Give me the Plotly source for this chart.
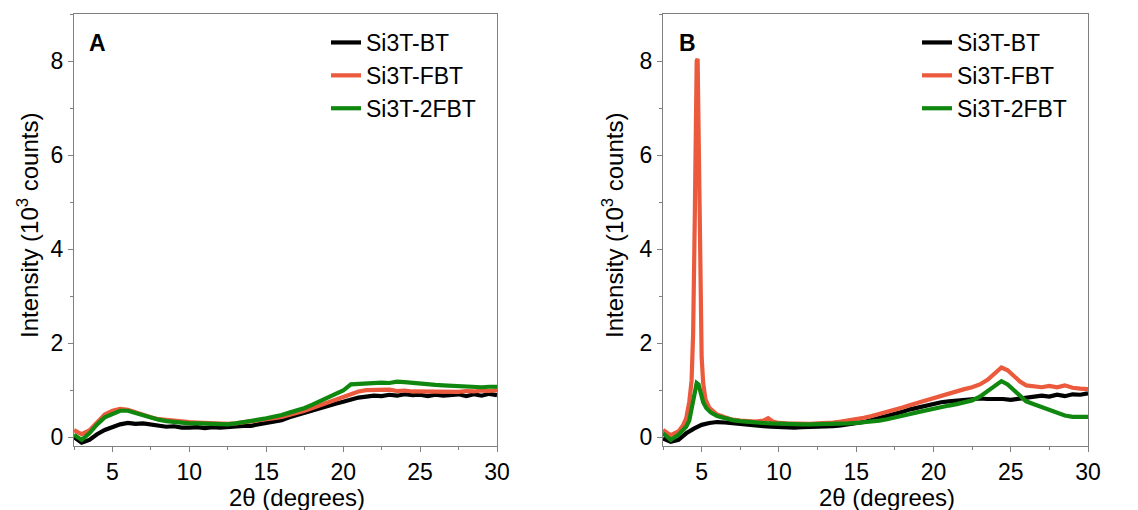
import plotly.graph_objects as go

# ---------------- data (10^3 counts vs 2-theta, degrees) ----------------
x_grid = [2.5, 3.0, 3.5, 4.0, 4.5, 5.0, 5.5, 6.0, 6.5, 7.0, 7.5, 8.0, 8.5, 9.0,
          9.5, 10.0, 10.5, 11.0, 11.5, 12.0, 12.5, 13.0, 13.5, 14.0, 14.5, 15.0,
          15.5, 16.0, 16.5, 17.0, 17.5, 18.0, 18.5, 19.0, 19.5, 20.0, 20.5, 21.0,
          21.5, 22.0, 22.5, 23.0, 23.5, 24.0, 24.5, 25.0, 25.5, 26.0, 26.5, 27.0,
          27.5, 28.0, 28.5, 29.0, 29.5, 30.0]

a_bt = [0.00, -0.12, -0.06, 0.06, 0.15, 0.22, 0.27, 0.30, 0.28, 0.29, 0.26, 0.25,
        0.22, 0.23, 0.20, 0.20, 0.21, 0.19, 0.21, 0.20, 0.22, 0.22, 0.24, 0.24,
        0.27, 0.28, 0.32, 0.36, 0.42, 0.47, 0.53, 0.57, 0.62, 0.66, 0.71, 0.75,
        0.80, 0.84, 0.86, 0.88, 0.87, 0.90, 0.88, 0.91, 0.89, 0.90, 0.87, 0.90,
        0.88, 0.89, 0.91, 0.87, 0.91, 0.88, 0.92, 0.89]
a_fbt = [0.15, 0.06, 0.14, 0.32, 0.48, 0.56, 0.60, 0.58, 0.52, 0.46, 0.42, 0.38,
         0.36, 0.35, 0.33, 0.32, 0.31, 0.30, 0.30, 0.29, 0.28, 0.29, 0.31, 0.32,
         0.34, 0.37, 0.40, 0.43, 0.47, 0.51, 0.56, 0.62, 0.68, 0.74, 0.80, 0.86,
         0.92, 0.97, 1.00, 1.01, 1.00, 1.01, 0.98, 0.99, 0.97, 0.97, 0.96, 0.97,
         0.95, 0.97, 0.96, 0.98, 0.97, 0.99, 0.98, 1.00]
a_2fbt = [0.05, -0.06, 0.08, 0.27, 0.42, 0.50, 0.56, 0.56, 0.51, 0.46, 0.41, 0.37,
          0.34, 0.32, 0.31, 0.29, 0.29, 0.28, 0.27, 0.27, 0.27, 0.29, 0.31, 0.34,
          0.37, 0.40, 0.43, 0.47, 0.52, 0.56, 0.62, 0.69, 0.76, 0.83, 0.91, 0.99,
          1.12, 1.13, 1.15, 1.14, 1.16, 1.15, 1.18, 1.17, 1.15, 1.14, 1.12, 1.11,
          1.10, 1.09, 1.08, 1.07, 1.08, 1.06, 1.07, 1.07]

b_bt = [-0.03, -0.10, -0.06, 0.08, 0.18, 0.26, 0.30, 0.32, 0.31, 0.29, 0.28, 0.26,
        0.25, 0.23, 0.22, 0.21, 0.21, 0.20, 0.21, 0.21, 0.22, 0.22, 0.23, 0.25,
        0.27, 0.29, 0.32, 0.36, 0.40, 0.44, 0.48, 0.54, 0.59, 0.63, 0.68, 0.71,
        0.74, 0.76, 0.78, 0.80, 0.80, 0.82, 0.81, 0.82, 0.81, 0.79, 0.81, 0.83,
        0.86, 0.88, 0.86, 0.90, 0.87, 0.91, 0.90, 0.93]

b_fbt_x = [2.5, 3.0, 3.5, 3.8, 4.0, 4.2, 4.35, 4.45, 4.55, 4.62, 4.68, 4.74, 4.8,
           4.86, 4.93, 5.0, 5.1, 5.25, 5.5, 6.0, 6.5, 7.0, 7.5, 8.0, 8.5, 9.0, 9.3,
           9.6, 10.0, 10.5, 11.0, 11.5, 12.0, 12.5, 13.0, 13.5, 14.0, 14.5, 15.0,
           15.5, 16.0, 16.5, 17.0, 17.5, 18.0, 18.5, 19.0, 19.5, 20.0, 20.5, 21.0,
           21.5, 22.0, 22.5, 23.0, 23.5, 24.0, 24.4, 24.8, 25.2, 25.6, 26.0, 26.5,
           27.0, 27.5, 28.0, 28.5, 29.0, 29.5, 30.0]
b_fbt = [0.15, 0.04, 0.12, 0.25, 0.40, 0.75, 1.2, 2.2, 4.5, 6.8, 8.0, 8.05, 6.6,
         4.6, 2.6, 1.7, 1.15, 0.80, 0.62, 0.48, 0.42, 0.37, 0.35, 0.33, 0.33, 0.35,
         0.40, 0.33, 0.30, 0.29, 0.28, 0.28, 0.28, 0.29, 0.29, 0.31, 0.33, 0.35,
         0.38, 0.41, 0.45, 0.49, 0.53, 0.58, 0.63, 0.68, 0.73, 0.78, 0.83, 0.88,
         0.94, 0.98, 1.02, 1.06, 1.12, 1.22, 1.38, 1.48, 1.42, 1.30, 1.18, 1.10,
         1.07, 1.06, 1.09, 1.06, 1.10, 1.05, 1.03, 1.02]

b_2fbt_x = [2.5, 3.0, 3.5, 4.0, 4.2, 4.4, 4.55, 4.68, 4.8, 4.95, 5.1, 5.3, 5.6, 6.0,
            6.5, 7.0, 7.5, 8.0, 8.5, 9.0, 9.5, 10.0, 10.5, 11.0, 11.5, 12.0, 12.5,
            13.0, 13.5, 14.0, 14.5, 15.0, 15.5, 16.0, 16.5, 17.0, 17.5, 18.0, 18.5,
            19.0, 19.5, 20.0, 20.5, 21.0, 21.5, 22.0, 22.5, 23.0, 23.5, 24.0, 24.4,
            24.8, 25.2, 25.6, 26.0, 26.5, 27.0, 27.5, 28.0, 28.5, 29.0, 29.5, 30.0]
b_2fbt = [0.08, -0.06, 0.05, 0.22, 0.35, 0.65, 0.95, 1.15, 1.12, 0.92, 0.74, 0.62,
          0.52, 0.45, 0.40, 0.36, 0.34, 0.32, 0.31, 0.30, 0.29, 0.28, 0.28, 0.27,
          0.27, 0.27, 0.27, 0.27, 0.28, 0.28, 0.29, 0.30, 0.31, 0.33, 0.35, 0.38,
          0.41, 0.45, 0.49, 0.53, 0.57, 0.61, 0.64, 0.67, 0.70, 0.74, 0.78, 0.86,
          0.98, 1.12, 1.19, 1.12, 1.00, 0.85, 0.76, 0.70, 0.64, 0.58, 0.52, 0.46,
          0.43, 0.44, 0.43]

names = ["Si3T-BT", "Si3T-FBT", "Si3T-2FBT"]
colors = ["#000000", "#EB5A3C", "#10880F"]
x_ticks = [5, 10, 15, 20, 25, 30]
y_ticks = [0, 2, 4, 6, 8]

# ---------------- figure ----------------
FONT = "Liberation Sans, Arial, sans-serif"
fig = go.Figure()

panel_a = [(x_grid, a_bt), (x_grid, a_fbt), (x_grid, a_2fbt)]
panel_b = [(x_grid, b_bt), (b_fbt_x, b_fbt), (b_2fbt_x, b_2fbt)]

for i, (xs, ys) in enumerate(panel_a):
    fig.add_trace(go.Scatter(x=xs, y=ys, mode="lines", name=names[i],
                             line=dict(color=colors[i], width=4.2),
                             xaxis="x", yaxis="y", legend="legend"))
for i, (xs, ys) in enumerate(panel_b):
    fig.add_trace(go.Scatter(x=xs, y=ys, mode="lines", name=names[i],
                             line=dict(color=colors[i], width=4.2),
                             xaxis="x2", yaxis="y2", legend="legend2"))

axis_common = dict(
    showline=True, linecolor="#808080", linewidth=1, mirror=True,
    ticks="outside", ticklen=5, tickwidth=1, tickcolor="#808080",
    showgrid=False, zeroline=False,
    tickfont=dict(family=FONT, size=23, color="#000000"),
)
xa = dict(axis_common, range=[2.5, 30], tickvals=x_ticks,
          minor=dict(dtick=2.5, tick0=0, ticks="outside", ticklen=3, tickcolor="#808080"))
ya = dict(axis_common, range=[-0.19, 9.0], tickvals=y_ticks,
          minor=dict(dtick=1, tick0=0, ticks="outside", ticklen=3, tickcolor="#808080"))

ML, MR, MT, MB = 74, 50, 14, 64
W, H = 1138, 510
PW = W - ML - MR
PH = H - MT - MB


def px(xp):
    return (xp - ML) / PW


def py(yp):
    return 1 - (yp - MT) / PH


leg_common = dict(font=dict(family=FONT, size=23, color="#000000"),
                  bgcolor="rgba(0,0,0,0)", borderwidth=0,
                  xanchor="left", yanchor="top", itemwidth=30,
                  tracegroupgap=0)

fig.update_layout(
    width=W, height=H,
    margin=dict(l=ML, r=MR, t=MT, b=MB),
    paper_bgcolor="white", plot_bgcolor="white",
    showlegend=True,
    xaxis=dict(xa, domain=[0, px(497)], anchor="y"),
    yaxis=dict(ya, domain=[0, 1], anchor="x"),
    xaxis2=dict(xa, domain=[px(663), 1], anchor="y2"),
    yaxis2=dict(ya, domain=[0, 1], anchor="x2"),
    legend=dict(leg_common, x=px(326), y=py(21)),
    legend2=dict(leg_common, x=px(917), y=py(21)),
)

ann = []
for cx, lab in [(97, "A"), (687, "B")]:
    ann.append(dict(x=px(cx), y=py(43), xref="paper", yref="paper", text=f"<b>{lab}</b>",
                    xanchor="center", yanchor="middle",
                    showarrow=False, font=dict(family=FONT, size=23, color="#000000")))
for cx in [28, 613]:
    ann.append(dict(x=px(cx), y=py(226), xref="paper", yref="paper",
                    xanchor="center", yanchor="middle",
                    text="Intensity (10<sup>3</sup> counts)", textangle=-90,
                    showarrow=False, font=dict(family=FONT, size=24, color="#000000")))
for cx in [297, 887]:
    ann.append(dict(x=px(cx), y=py(497), xref="paper", yref="paper",
                    xanchor="center", yanchor="middle",
                    text="2\u03b8 (degrees)",
                    showarrow=False, font=dict(family=FONT, size=24, color="#000000")))
fig.update_layout(annotations=ann)

fig.write_html("out.html", config={"displayModeBar": False},
               post_script="document.body.style.margin='0px';")
